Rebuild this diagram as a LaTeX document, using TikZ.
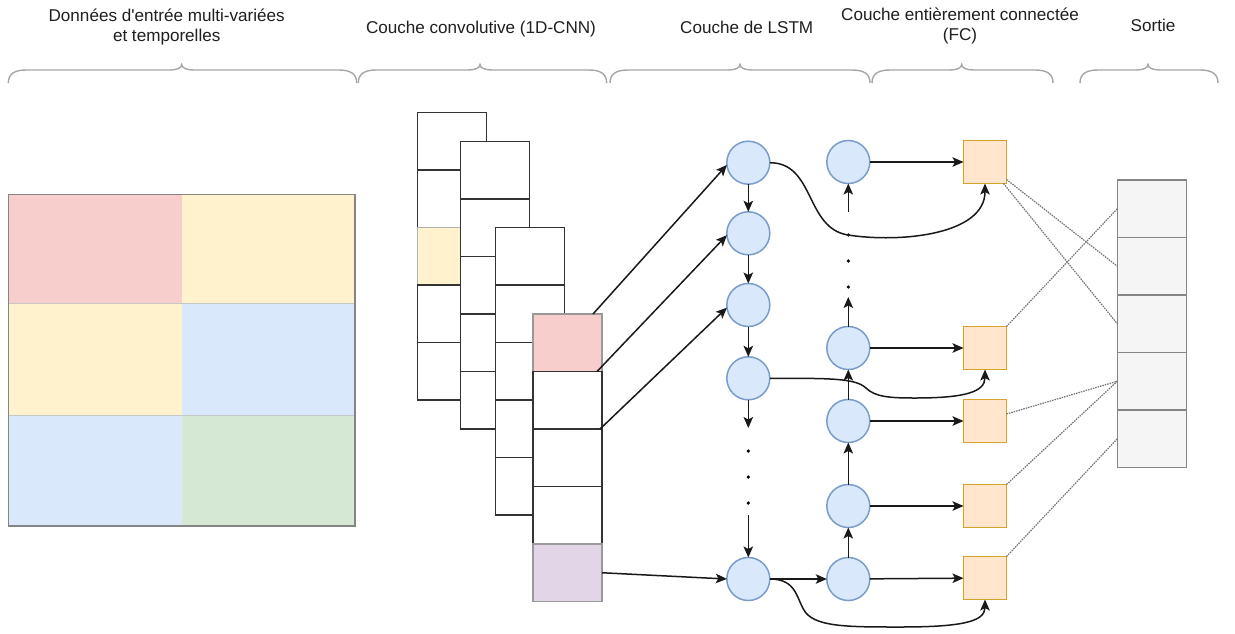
\documentclass[tikz,border=0pt]{standalone}
\usepackage{fontspec}
\setmainfont{Liberation Sans}
\usetikzlibrary{arrows.meta,calc}
\definecolor{cpink}{HTML}{F8CECC}
\definecolor{cyellow}{HTML}{FFF2CC}
\definecolor{cblue}{HTML}{DAE8FC}
\definecolor{cgreen}{HTML}{D5E8D4}
\definecolor{cpurple}{HTML}{E1D5E7}
\definecolor{corange}{HTML}{FFE6CC}
\definecolor{corangeline}{HTML}{D9A32A}
\definecolor{cblueline}{HTML}{7A9CC9}
\definecolor{cgrayfill}{HTML}{F5F5F5}
\definecolor{cgrayline}{HTML}{858585}
\definecolor{cbrace}{HTML}{A6A6A6}
\newcommand{\drawbrace}[3]{%
  \draw[brace] (#1,83) .. controls (#1,74) and (#1+6,70) .. (#1+18,70)
    -- (#3-12,70) .. controls (#3-5,70) and (#3,68) .. (#3,64.5)
    .. controls (#3,68) and (#3+5,70) .. (#3+12,70)
    -- (#2-18,70) .. controls (#2-6,70) and (#2,74) .. (#2,83);}
\begin{document}
\begin{tikzpicture}[x=1pt,y=-1pt,
  lbl/.style={font=\fontsize{17.1}{20}\selectfont, text=black!88, anchor=base, inner sep=0pt},
  brace/.style={draw=cbrace, line width=1.4pt},
  gcell/.style={draw=none, inner sep=0pt, outer sep=0pt, anchor=north west},
  cell/.style={draw=black!80, fill=white, line width=1.5pt, minimum width=69pt, minimum height=57.5pt, inner sep=0pt, outer sep=0pt, anchor=north west},
  cs13/.style={fill=cyellow, draw=black!30},
  cs41/.style={fill=cpink, draw=black!40},
  cs45/.style={fill=cpurple, draw=black!40},
  lstm/.style={circle, draw=cblueline, fill=cblue, line width=1.5pt, minimum size=43pt, inner sep=0pt, outer sep=0pt},
  fc/.style={draw=corangeline, fill=corange, line width=1.5pt, minimum size=43pt, inner sep=0pt, outer sep=0pt},
  ocell/.style={draw=cgrayline, fill=cgrayfill, line width=1.5pt, minimum width=69pt, minimum height=57.5pt, inner sep=0pt, outer sep=0pt, anchor=north west},
  arr/.style={-{Stealth[length=11pt,width=9.5pt,inset=2.5pt]}, line width=1.5pt, draw=black!90},
  dotl/.style={draw=black!55, line width=1.2pt, dash pattern=on 1.5pt off 1pt},
  dotmark/.style={fill=black}
]
\fill[white] (0,0) rectangle (1235,633);
\useasboundingbox (0,0) rectangle (1235,633);

% ---------- header labels ----------
\node[lbl] (t1a) at (166.7,21.7) {Données d\textquotesingle entrée multi-variées};
\node[lbl] (t1b) at (166.7,41.7) {et temporelles};
\node[lbl] (t2) at (481,33) {Couche convolutive (1D-CNN)};
\node[lbl] (t3) at (746.7,33) {Couche de LSTM};
\node[lbl] (t4a) at (960,20.5) {Couche entièrement connectée};
\node[lbl] (t4b) at (960,40.5) {(FC)};
\node[lbl] (t5) at (1153,31.7) {Sortie};

% ---------- braces ----------
\drawbrace{8.3}{356.7}{181.7}
\drawbrace{358.3}{606.7}{480}
\drawbrace{610}{870}{740}
\drawbrace{872}{1053}{961.7}
\drawbrace{1080}{1218}{1148}

% ---------- input grid ----------
\node[gcell, fill=cpink, minimum width=173.4pt, minimum height=109pt] (g11) at (8.3,194.3) {};
\node[gcell, fill=cyellow, minimum width=173.3pt, minimum height=109pt] (g12) at (181.7,194.3) {};
\node[gcell, fill=cyellow, minimum width=173.4pt, minimum height=112pt] (g21) at (8.3,303.3) {};
\node[gcell, fill=cblue, minimum width=173.3pt, minimum height=112pt] (g22) at (181.7,303.3) {};
\node[gcell, fill=cblue, minimum width=173.4pt, minimum height=110.4pt] (g31) at (8.3,415.3) {};
\node[gcell, fill=cgreen, minimum width=173.3pt, minimum height=110.4pt] (g32) at (181.7,415.3) {};
\draw[black!22, line width=1.2pt] (g21.north west) -- (g22.north east);
\draw[black!22, line width=1.2pt] (g31.north west) -- (g32.north east);
\draw[cgrayline, line width=1.6pt] (g11.north west) rectangle (g32.south east);

% ---------- convolution stacks ----------
\foreach \s/\xx/\yy in {1/417.7/112.3, 2/460.7/141.3, 3/495.7/227.3, 4/533/314}{
  \foreach \i in {1,...,5}{
    \node[cell, cs\s\i/.try] (c\s\i) at (\xx, \yy+57.5*\i-57.5) {};
  }
}

% ---------- LSTM cells ----------
\node[lstm] (A1) at (748.3,162.7) {};
\node[lstm] (A2) at (748.3,233.3) {};
\node[lstm] (A3) at (748.3,305) {};
\node[lstm] (A4) at (748.3,378.3) {};
\node[lstm] (A5) at (748.3,579) {};
\node[lstm] (B1) at (848.3,162) {};
\node[lstm] (B2) at (848.3,348) {};
\node[lstm] (B3) at (848.3,421) {};
\node[lstm] (B4) at (848.3,506) {};
\node[lstm] (B5) at (848.3,579) {};

% ---------- FC ----------
\node[fc] (F1) at (985,162) {};
\node[fc] (F2) at (985,348) {};
\node[fc] (F3) at (985,421) {};
\node[fc] (F4) at (985,506) {};
\node[fc] (F5) at (985,578) {};

% ---------- output ----------
\foreach \i in {1,...,5}{
  \node[ocell] (O\i) at (1117.3, 180+57.5*\i-57.5) {};
}

% ---------- CNN -> LSTM ----------
\draw[arr] ([xshift=-9pt]c41.north east) -- (A1.186);
\draw[arr] ([xshift=-5pt]c41.south east) -- (A2.185);
\draw[arr] ([xshift=-2pt]c42.south east) -- (A3.187);
\draw[arr] (c45.east) -- (A5.west);

% ---------- LSTM left column ----------
\draw[arr] (A1) -- (A2);
\draw[arr] (A2) -- (A3);
\draw[arr] (A3) -- (A4);
\coordinate (a4end) at (748.3,428);
\draw[arr] (A4) -- (a4end);
\fill[dotmark] (748.3,451) circle (1.8);
\fill[dotmark] (748.3,477) circle (1.8);
\fill[dotmark] (748.3,503) circle (1.8);
\coordinate (a5start) at (748.3,515);
\draw[arr] (a5start) -- (A5);
\draw[arr] (A5) -- (B5);

% ---------- LSTM right column ----------
\draw[arr] (B5) -- (B4);
\draw[arr] (B4) -- (B3);
\draw[arr] (B3) -- (B2);
\coordinate (b2end) at (848.3,297);
\draw[arr] (B2) -- (b2end);
\fill[dotmark] (848.3,235) circle (1.8);
\fill[dotmark] (848.3,261) circle (1.8);
\fill[dotmark] (848.3,287) circle (1.8);
\coordinate (b1start) at (848.3,212);
\draw[arr] (b1start) -- (B1);

% ---------- LSTM -> FC ----------
\draw[arr] (B1) -- (F1);
\draw[arr] (B2) -- (F2);
\draw[arr] (B3) -- (F3);
\draw[arr] (B4) -- (F4);
\draw[arr] (B5) -- (F5);

\draw[arr] (A1.east) .. controls (815,162.7) and (805,228) .. (848,235)
  .. controls (900,243) and (985,235) .. (F1.south);
\draw[arr] (A4.east) .. controls (830,378.3) and (855,378) .. (866,388)
  .. controls (875,397) and (890,398) .. (915,398)
  .. controls (965,398) and (985,392) .. (F2.south);
\draw[arr] (A5.east) .. controls (798,579) and (796,600) .. (806,613)
  .. controls (818,627) and (850,627) .. (900,627)
  .. controls (960,627) and (985,622) .. (F5.south);

% ---------- FC -> output ----------
\draw[dotl] ([yshift=4pt]F1.south east) -- (O2.west);
\draw[dotl] ([xshift=-3pt]F1.south east) -- (O3.west);
\draw[dotl] (F2.north east) -- (O1.west);
\draw[dotl] ([yshift=7pt]F3.east) -- (O4.west);
\draw[dotl] (F4.north east) -- (O4.west);
\draw[dotl] (F5.north east) -- (O5.west);
\end{tikzpicture}
\end{document}
